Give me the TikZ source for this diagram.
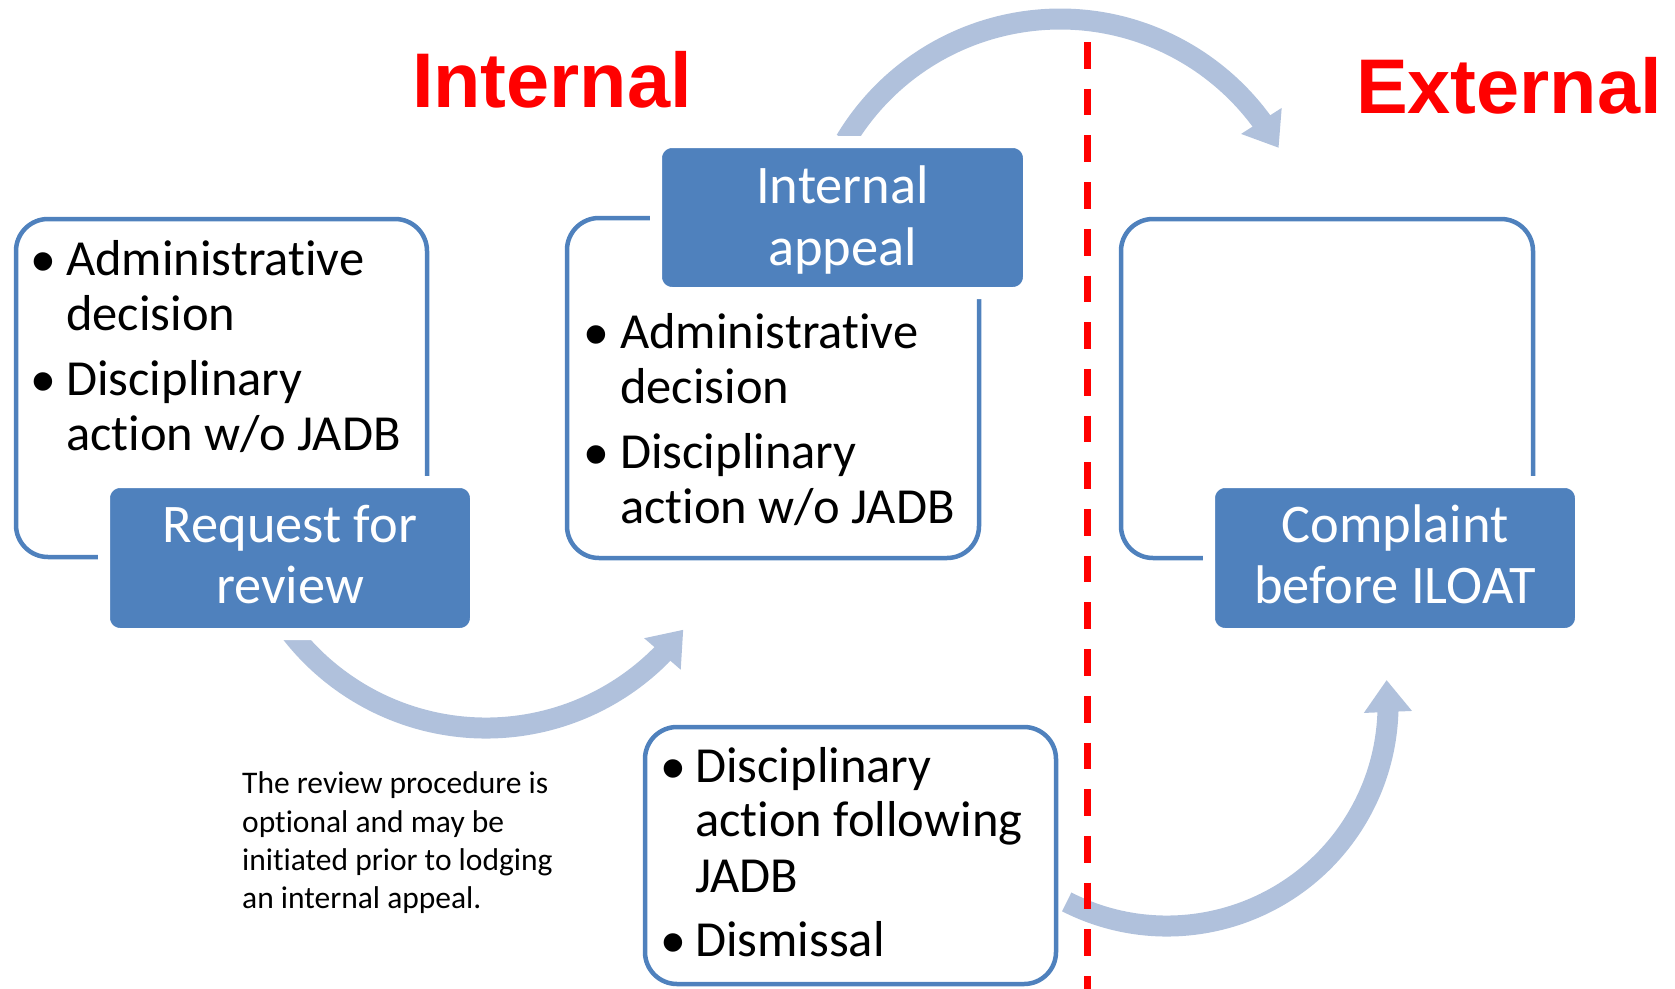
\documentclass[tikz,border=0pt]{standalone}
\usepackage{fontspec}
\setmainfont{Carlito}[Ligatures={NoCommon}]
\newfontfamily\titlefont{Liberation Sans}
\newfontfamily\bulletfont{Liberation Sans}
\usetikzlibrary{arrows.meta,bending}
\definecolor{boxblue}{HTML}{4F81BD}
\definecolor{arrowblue}{HTML}{B0C1DC}
\begin{document}
\begin{tikzpicture}[x=1pt,y=-1pt,
  outline/.style={draw=boxblue, line width=4.5pt, rounded corners=32pt, inner sep=0pt},
  titlebox/.style={fill=boxblue, draw=white, line width=12pt, rounded corners=16pt, inner sep=0pt},
  btext/.style={font=\fontsize{50.5}{54.5}\selectfont, inner sep=0pt, anchor=base west},
  ttext/.style={font=\fontsize{54.4}{60}\selectfont, text=white, inner sep=0pt, anchor=base},
  notetext/.style={font=\fontsize{31.5}{38.5}\selectfont, inner sep=0pt, anchor=base west},
  heading/.style={font=\titlefont\bfseries\fontsize{77.5}{80}\selectfont, text=red, inner sep=0pt, anchor=base},
  bul/.style={font=\bulletfont\fontsize{68}{68}\selectfont, inner sep=0pt, anchor=base},
  bigarrow/.style={draw=arrowblue, line width=21pt, -{Triangle[width=46pt,length=32pt]}},
  divider/.style={draw=red, line width=7pt, dash pattern=on 26.7pt off 20pt}
]
\useasboundingbox (0,0) rectangle (1675,988);

% arrows
\coordinate (a1s) at (845.7,140.3);
\coordinate (a2s) at (291.4,633.1);
\coordinate (a3s) at (1066.7,901.9);
\draw[bigarrow] (a1s) arc[start angle=211, end angle=331, radius=250];
\draw[bigarrow] (a2s) arc[start angle=142, end angle=37, radius=247];
\draw[bigarrow] (a3s) arc[start angle=117, end angle=-6.5, radius=221];

% divider
\coordinate (rtop) at (1087,42);
\coordinate (rbot) at (1087,995);
\draw[divider] (rtop) -- (rbot);

% outline boxes
\node[outline, minimum width=411pt, minimum height=338pt] (o1) at (221.5,388) {};
\node[outline, minimum width=412pt, minimum height=340pt] (o2) at (773,388) {};
\node[outline, minimum width=412pt, minimum height=339pt] (o3) at (1327,388.5) {};
\node[outline, minimum width=411pt, minimum height=257pt] (o4) at (850.5,855.5) {};

% title boxes
\node[titlebox, minimum width=372pt, minimum height=152pt] (r1) at (290,558) {};
\node[titlebox, minimum width=373pt, minimum height=151pt] (r2) at (842.5,217.5) {};
\node[titlebox, minimum width=372pt, minimum height=152pt] (r3) at (1395,558) {};

\node[ttext] (r1a) at (290,542) {Request for};
\node[ttext] (r1b) at (290,603) {review};
\node[ttext] (r2a) at (842.5,203) {Internal};
\node[ttext] (r2b) at (842.5,265) {appeal};
\node[ttext] (r3a) at (1395,542) {Complaint};
\node[ttext] (r3b) at (1395,603) {before ILOAT};

% box 1 text
\node[bul] (d1a) at (43,284.6) {•};
\node[btext] (t1a) at (66,275) {Administrative};
\node[btext] (t1b) at (66,330) {decision};
\node[bul] (d1b) at (43,404.6) {•};
\node[btext] (t1c) at (66,395) {Disciplinary};
\node[btext] (t1d) at (66,450) {action w/o JADB};

% box 2 text
\node[bul] (d2a) at (596,357.6) {•};
\node[btext] (t2a) at (620,348) {Administrative};
\node[btext] (t2b) at (620,403) {decision};
\node[bul] (d2b) at (596,477.6) {•};
\node[btext] (t2c) at (620,468) {Disciplinary};
\node[btext] (t2d) at (620,523) {action w/o JADB};

% box 4 text
\node[bul] (d4a) at (673,791.6) {•};
\node[btext] (t4a) at (695,782) {Disciplinary};
\node[btext] (t4b) at (695,836) {action following};
\node[btext] (t4c) at (695,892) {JADB};
\node[bul] (d4b) at (673,965.6) {•};
\node[btext] (t4d) at (695,956) {Dismissal};

% note
\node[notetext] (n1) at (242,793) {The review procedure is};
\node[notetext] (n2) at (242,832) {optional and may be};
\node[notetext] (n3) at (242,870) {initiated prior to lodging};
\node[notetext] (n4) at (242,908) {an internal appeal.};

% headings
\node[heading] (hint) at (552,107) {Internal};
\node[heading] (hext) at (1509,113) {External};
\end{tikzpicture}
\end{document}
